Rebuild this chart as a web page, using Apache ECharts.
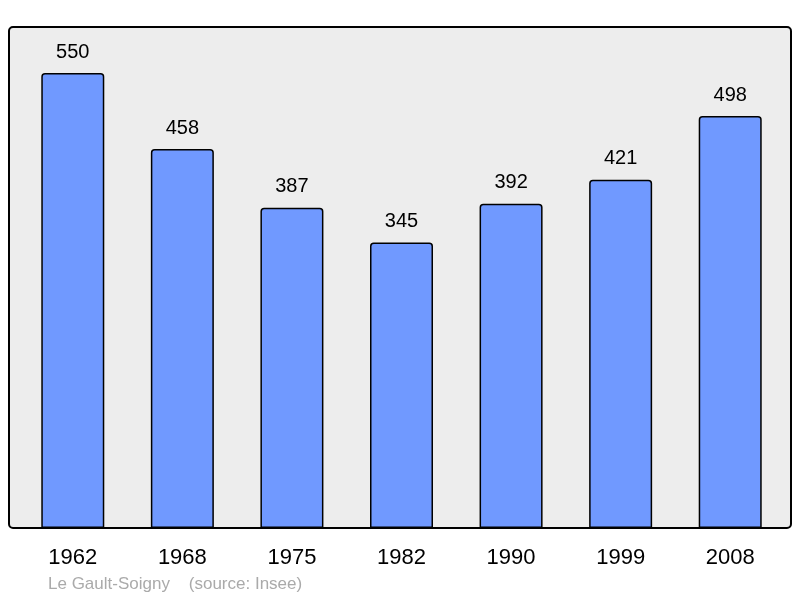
<!DOCTYPE html>
<html>
<head>
<meta charset="utf-8">
<script src="https://cdn.jsdelivr.net/npm/echarts@6/dist/echarts.min.js"></script>
<style>html,body{margin:0;padding:0;background:#fff;}#c{width:800px;height:598px;}</style>
</head>
<body>
<div id="c"></div>
<script>
var years = ['1962', '1968', '1975', '1982', '1990', '1999', '2008'];
var population = [550, 458, 387, 345, 392, 421, 498];
var footer = 'Le Gault-Soigny    (source: Insee)';

var chart = echarts.init(document.getElementById('c'), null, {renderer: 'canvas'});
chart.setOption({
  animation: false,
  backgroundColor: '#ffffff',
  textStyle: {fontFamily: 'Liberation Sans, Arial, sans-serif'},
  grid: {left: 18, right: 15, top: 27, bottom: 70, containLabel: false},
  xAxis: {
    type: 'category',
    data: years,
    axisLine: {show: false},
    axisTick: {show: false},
    axisLabel: {color: '#000', fontSize: 22, margin: 19, fontFamily: 'Liberation Sans, Arial, sans-serif'}
  },
  yAxis: {
    type: 'value',
    min: 0,
    max: 605.6,
    show: false,
    splitLine: {show: false}
  },
  graphic: [
    {type: 'rect', z: -10, silent: true, shape: {x: 9, y: 27, width: 782, height: 501, r: 4},
     style: {fill: '#ededed', stroke: null}},
    {type: 'rect', z: 100, silent: true, shape: {x: 9, y: 27, width: 782, height: 501, r: 4},
     style: {fill: null, stroke: '#000', lineWidth: 2}},
    {type: 'text', left: 48, top: 576, silent: true,
     style: {text: footer, fill: '#aaaaaa', fontSize: 17, fontFamily: 'Liberation Sans, Arial, sans-serif'}}
  ],
  series: [{
    type: 'bar',
    data: population,
    barWidth: 63,
    itemStyle: {color: '#7099ff', borderColor: '#000', borderWidth: 1.5, borderRadius: [3, 3, 0, 0]},
    label: {show: true, position: 'top', distance: 11, color: '#000', fontSize: 20,
            fontFamily: 'Liberation Sans, Arial, sans-serif'}
  }]
});
</script>
</body>
</html>
